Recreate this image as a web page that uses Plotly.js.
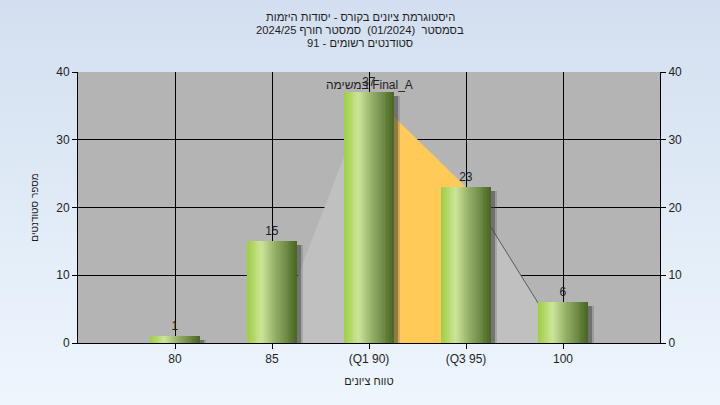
<!DOCTYPE html>
<html>
<head>
<meta charset="utf-8">
<script src="https://cdn.plot.ly/plotly-3.0.1.min.js"></script>
<style>
html,body{margin:0;padding:0;}
body{width:720px;height:405px;background:linear-gradient(#d3dff0,#eef6fd);overflow:hidden;}
#chart{width:720px;height:405px;}
</style>
</head>
<body>
<div id="chart"></div>
<script>
// ---- data ----
const categories = [80, 85, 90, 95, 100];
const tickLabels = ['80', '85', '(Q1 90)', '(Q3 95)', '100'];
const counts = [1, 15, 37, 23, 6];
// distribution outline (light gray area)
const curveX = [85, 90, 95, 100];
const curveY = [0, 37, 23, 0];
// inter-quartile segment (orange area)
const iqrX = [90, 95];
const iqrY = [37, 23];
// visible outline segment
const tailX = [95, 100];
const tailY = [23, 0];
const titleLines = [
  'היסטוגרמת ציונים בקורס - יסודות היזמות',
  'בסמסטר  (01/2024)  סמסטר חורף 2024/25',
  'סטודנטים רשומים - 91'
];
const seriesLabel = 'במשימה Final_A';
const xTitle = 'טווח ציונים';
const yTitle = 'מספר סטודנטים';

// ---- styling ----
const FONT = 'Liberation Sans, Arial, sans-serif';
const TXT = '#1e1e1e';
const W = 2.6; // bar width in x units
const N = 26;
const stops = [
  [0.0, [160, 206, 66]],
  [0.3, [204, 229, 154]],
  [0.55, [150, 176, 105]],
  [1.0, [72, 102, 34]]
];
function colorAt(t) {
  for (let i = 0; i < stops.length - 1; i++) {
    const [t0, c0] = stops[i], [t1, c1] = stops[i + 1];
    if (t >= t0 && t <= t1) {
      const f = (t - t0) / (t1 - t0);
      const c = c0.map((v, k) => Math.round(v + (c1[k] - v) * f));
      return `rgb(${c[0]},${c[1]},${c[2]})`;
    }
  }
  return 'rgb(72,102,34)';
}

const traces = [];
traces.push({
  type: 'scatter', x: curveX, y: curveY, mode: 'lines', fill: 'tozeroy',
  fillcolor: '#c0c0c0', line: {width: 0, color: 'rgba(0,0,0,0)'}, hoverinfo: 'skip', showlegend: false
});
traces.push({
  type: 'scatter', x: iqrX, y: iqrY, mode: 'lines', fill: 'tozeroy',
  fillcolor: '#ffca58', line: {width: 0, color: 'rgba(0,0,0,0)'}, hoverinfo: 'skip', showlegend: false
});
traces.push({
  type: 'scatter', x: tailX, y: tailY, mode: 'lines',
  line: {width: 1, color: '#5a5a5a'}, hoverinfo: 'skip', showlegend: false
});
// shadows (drawn on the overlaying subplot, above the areas)
[[0.32, 'rgba(70,70,70,0.22)'], [0.17, 'rgba(60,60,60,0.45)']].forEach(([dx, col]) => {
  traces.push({
    type: 'bar', x: categories, y: counts.map(v => Math.max(v - 0.5, 0.3)),
    xaxis: 'x2', yaxis: 'y2',
    width: W, offset: -W / 2 + dx, marker: {color: col, line: {width: 0}},
    hoverinfo: 'skip', showlegend: false
  });
});
// gradient bars as stripes
for (let i = 0; i < N; i++) {
  const sw = W / N;
  traces.push({
    type: 'bar', x: categories, y: counts, xaxis: 'x2', yaxis: 'y2',
    width: i < N - 1 ? sw * 1.6 : sw, offset: -W / 2 + i * sw,
    marker: {color: colorAt((i + 0.5) / N), line: {width: 0}},
    hoverinfo: 'skip', showlegend: false
  });
}
// value labels
traces.push({
  type: 'bar', x: categories, y: counts, width: W, xaxis: 'x2', yaxis: 'y2',
  marker: {color: 'rgba(0,0,0,0)', line: {width: 0}},
  text: counts.map(String), textposition: 'outside', cliponaxis: false,
  textfont: {family: FONT, size: 12, color: TXT}, showlegend: false, name: seriesLabel
});

const annotations = titleLines.map((t, i) => ({
  text: t, xref: 'paper', yref: 'paper', x: (360 - 78) / 582, y: (343 - (17 + 13 * i)) / 271,
  xanchor: 'center', yanchor: 'middle', showarrow: false,
  font: {family: FONT, size: 11.2, color: TXT}
}));
annotations.push({
  text: seriesLabel, xref: 'x', yref: 'paper', x: 90, y: (343 - 85) / 271,
  xanchor: 'center', yanchor: 'middle', showarrow: false,
  font: {family: FONT, size: 12, color: TXT}
});

const axisFont = {family: FONT, size: 12, color: TXT};
const layout = {
  width: 720, height: 405,
  margin: {l: 78, r: 60, t: 72, b: 62},
  paper_bgcolor: 'rgba(0,0,0,0)', plot_bgcolor: '#b4b4b4',
  barmode: 'overlay', bargap: 0,
  showlegend: false,
  font: {family: FONT, size: 12, color: TXT},
  xaxis: {
    range: [75, 105], tickvals: categories, ticktext: tickLabels,
    showgrid: true, gridcolor: '#000', gridwidth: 1,
    showline: true, linecolor: '#000', linewidth: 1,
    ticks: 'outside', ticklen: 5, tickcolor: '#000', zeroline: false,
    tickfont: axisFont, fixedrange: true,
    title: {text: xTitle, font: {family: FONT, size: 11, color: TXT}, standoff: 11}
  },
  xaxis2: {
    range: [75, 105], overlaying: 'x', visible: false, showgrid: false, fixedrange: true
  },
  yaxis: {
    range: [0, 40], dtick: 10, showgrid: true, gridcolor: '#000', gridwidth: 1,
    showline: true, linecolor: '#000', linewidth: 1,
    ticks: 'outside', ticklen: 5, tickcolor: '#000', zeroline: false,
    tickfont: axisFont, fixedrange: true,
    title: {text: yTitle, font: {family: FONT, size: 10, color: TXT}, standoff: 15}
  },
  yaxis2: {
    range: [0, 40], dtick: 10, overlaying: 'y', side: 'right', showgrid: false,
    showline: true, linecolor: '#000', linewidth: 1,
    ticks: 'outside', ticklen: 5, tickcolor: '#000', zeroline: false,
    tickfont: axisFont, fixedrange: true
  },
  annotations: annotations
};

Plotly.newPlot('chart', traces, layout, {displayModeBar: false, staticPlot: true});
</script>
</body>
</html>
